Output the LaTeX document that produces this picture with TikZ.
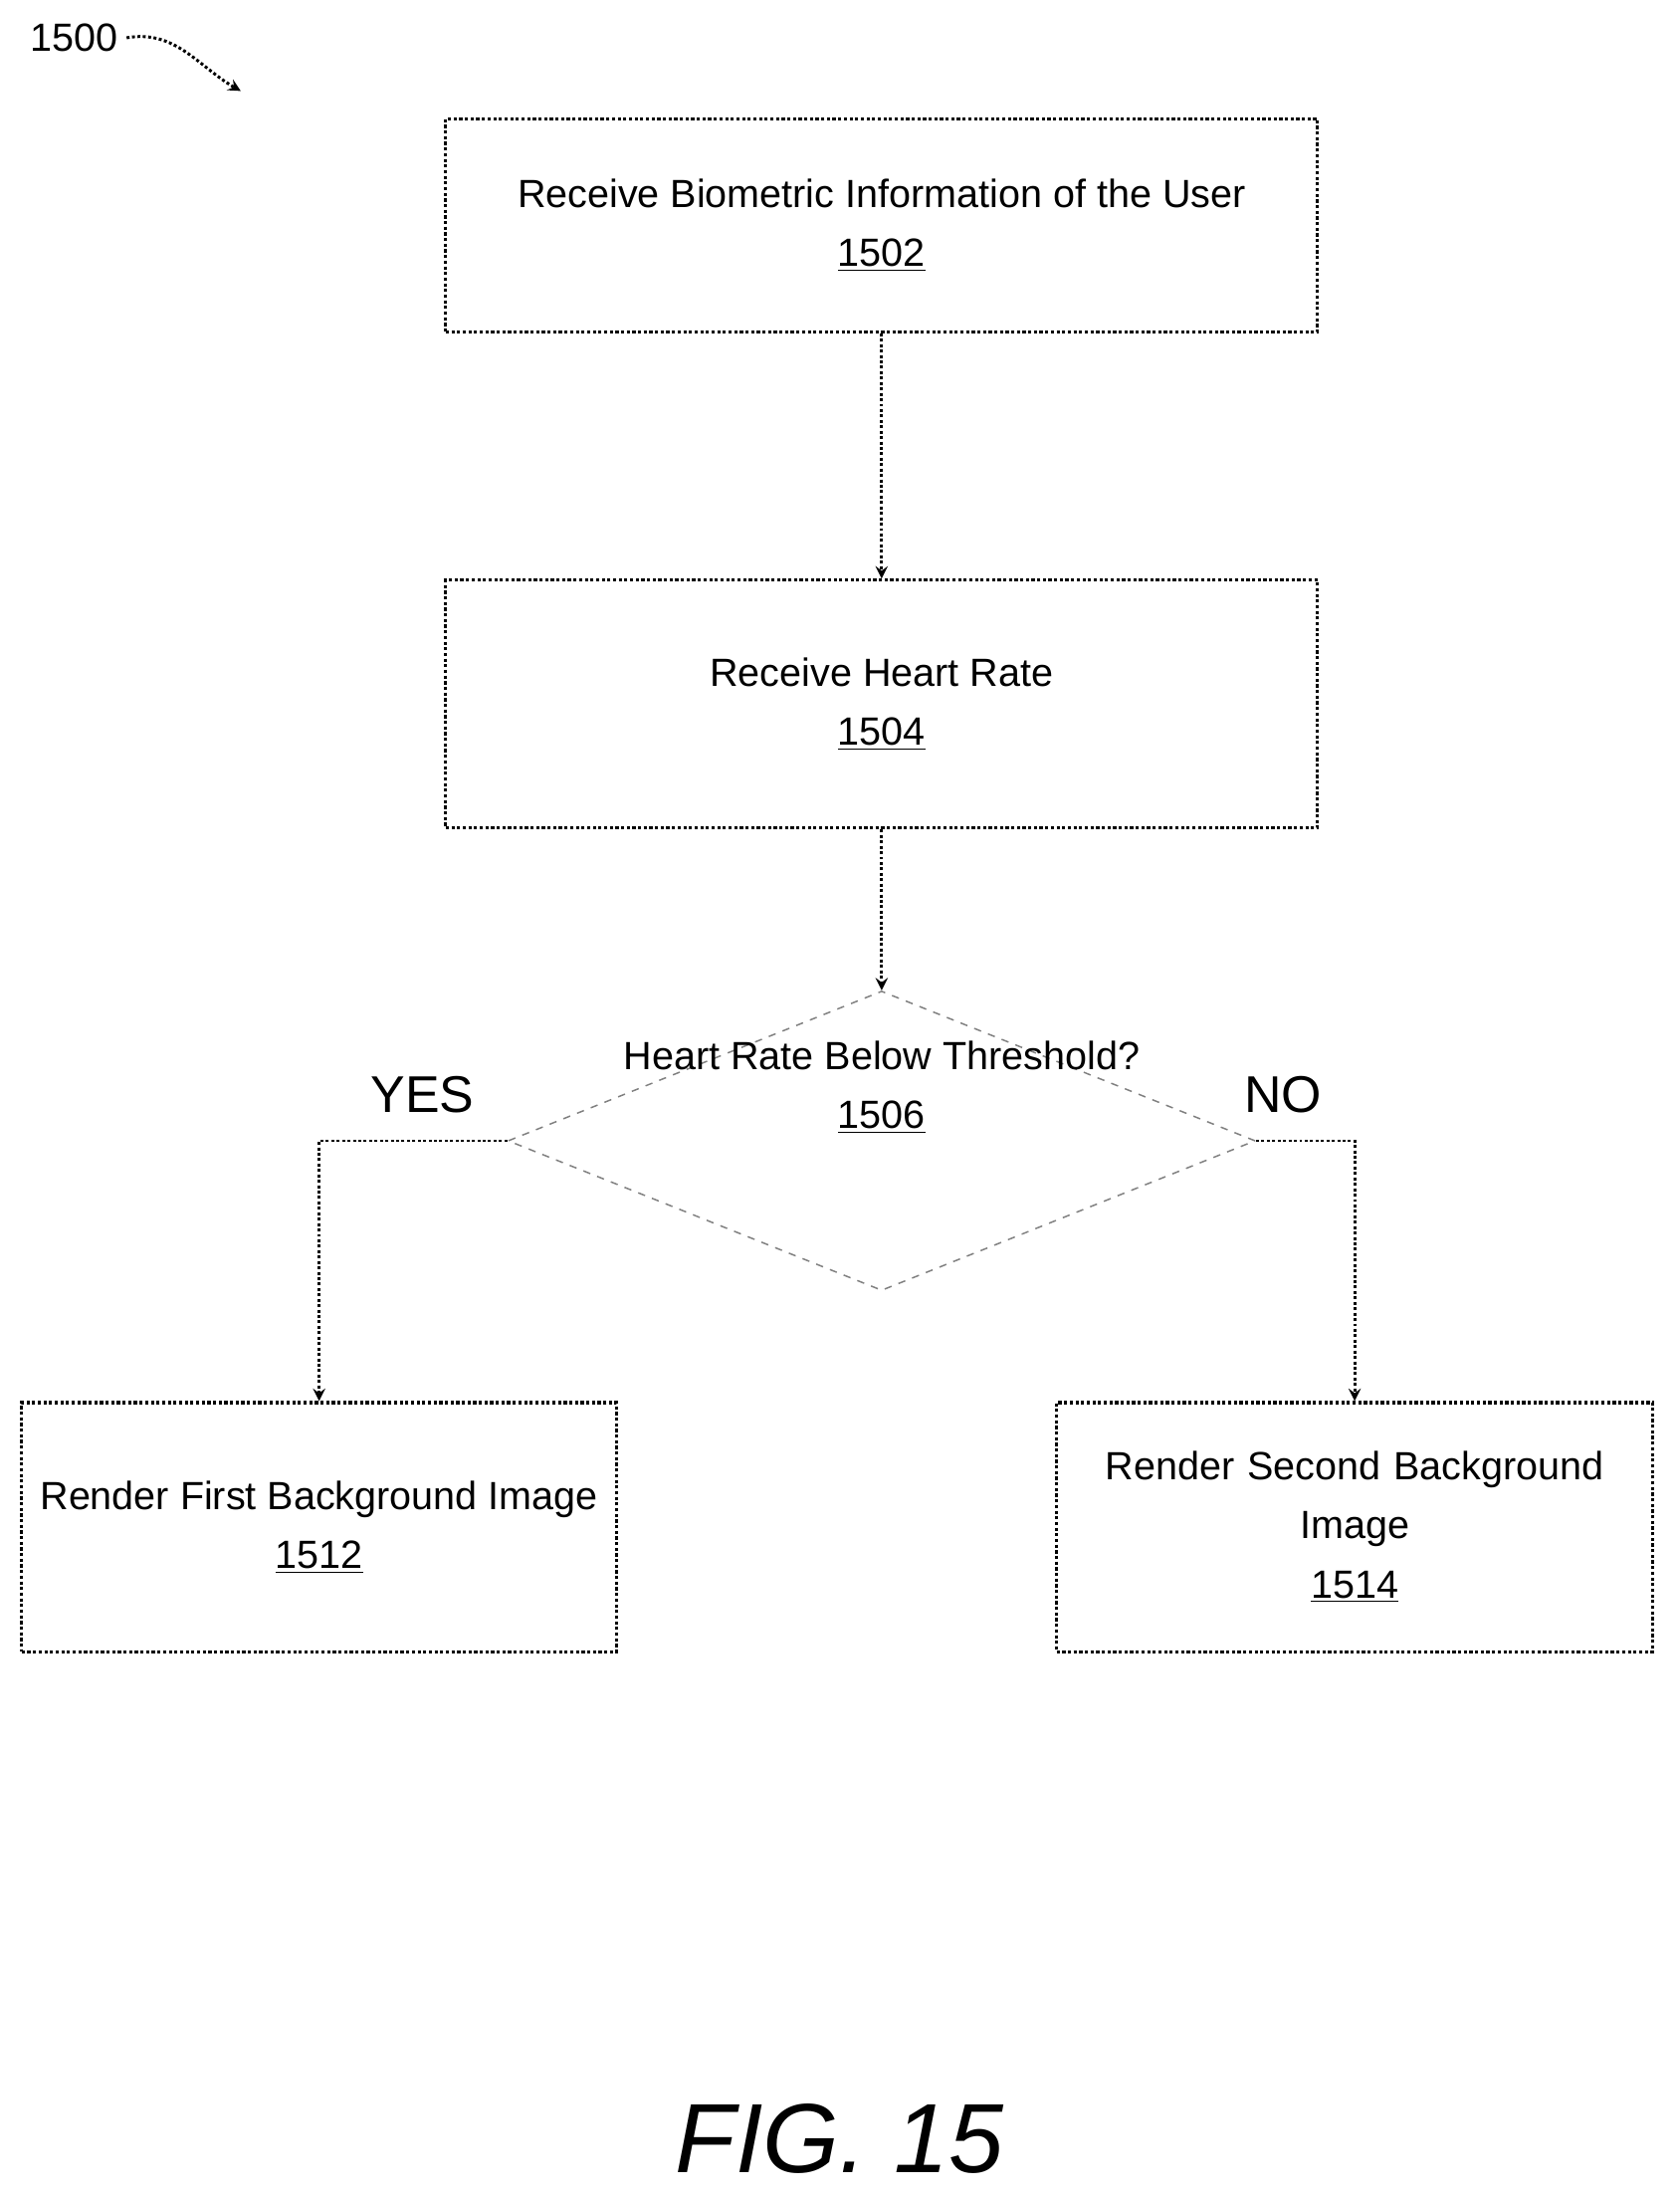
\documentclass[tikz,border=0pt]{standalone}
\usepackage{fontspec}
\setmainfont{Liberation Sans}
\usetikzlibrary{arrows,shapes.geometric,positioning}
\begin{document}
\begin{tikzpicture}[x=0.02cm,y=-0.02cm,
  box/.style={draw,line width=1.3pt,densely dotted,font=\fontsize{16}{24}\selectfont,align=center,inner sep=0pt},
  dec/.style={draw,line width=0.6pt,dashed,gray,diamond,inner sep=0pt},
  txt/.style={font=\fontsize{16}{24}\selectfont,align=center},
  lbl/.style={font=\fontsize{21}{26}\selectfont},
  line/.style={line width=1.2pt,densely dotted,-stealth}]
\useasboundingbox (0,0) rectangle (1200,1571);
%process boxes
\node[box,minimum width=623*0.02cm,minimum height=152*0.02cm] (b1502) at (630,161) {Receive Biometric Information of the User\\\underline{1502}};
\node[box,minimum width=623*0.02cm,minimum height=177*0.02cm] (b1504) at (630,503) {Receive Heart Rate\\\underline{1504}};
\node[dec,minimum width=534*0.02cm,minimum height=214*0.02cm] (d1506) at (630,815) {};
\node[txt,below=-44pt of d1506.center] (t1506) {Heart Rate Below Threshold?\\\underline{1506}};
\node[box,minimum width=425*0.02cm,minimum height=178*0.02cm] (b1512) at (228,1091) {Render First Background Image\\\underline{1512}};
\node[box,minimum width=426*0.02cm,minimum height=178*0.02cm,text width=380*0.02cm] (b1514) at (968,1091) {Render Second Background\\Image\\\underline{1514}};
%connectors
\draw[line] (b1502) -- (b1504);
\draw[line] (b1504) -- (d1506);
\draw[line] (d1506.west) -| (b1512.north);
\draw[line] (d1506.east) -| (b1514.north);
%branch labels
\node[lbl] (yes) at (302,782) {YES};
\node[lbl] (no) at (917,782) {NO};
%figure label
\node[font=\fontsize{16}{20}\selectfont] (n1500) at (53,27) {1500};
\coordinate (tip) at (172,65);
\draw[line] (n1500.east) to[out=10,in=150] (tip);
\node[font=\itshape\fontsize{40}{48}\selectfont] (fig) at (600,1528) {FIG. 15};
\end{tikzpicture}
\end{document}
